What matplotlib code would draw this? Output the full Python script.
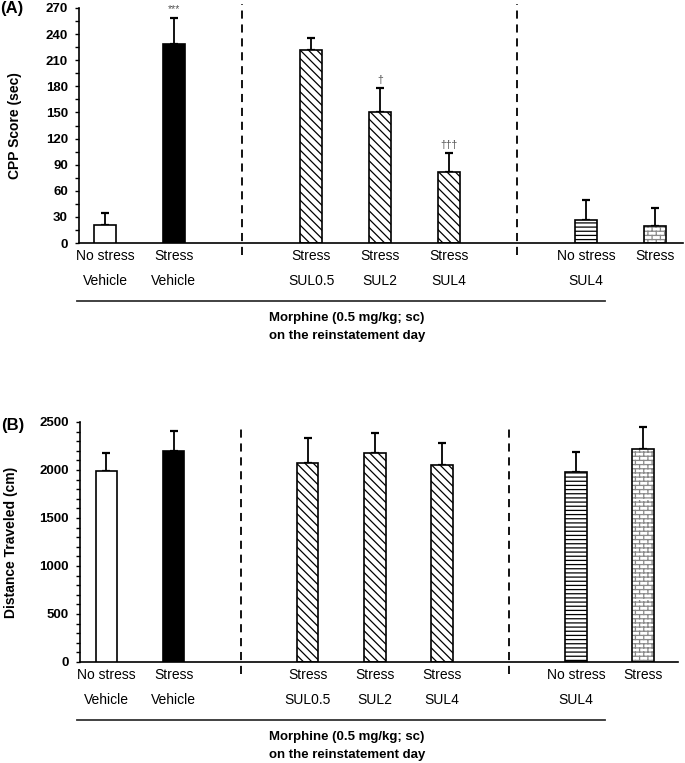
import warnings
import numpy as np
import matplotlib
matplotlib.use("Agg")
import matplotlib.pyplot as plt
import matplotlib.hatch as mhatch
import matplotlib.transforms as mtransforms
from matplotlib.lines import Line2D
from matplotlib.path import Path

warnings.filterwarnings("ignore")

# ---- data ----
conditions = ["No stress", "Stress", "Stress", "Stress", "Stress", "No stress", "Stress"]
treatments = ["Vehicle", "Vehicle", "SUL0.5", "SUL2", "SUL4", "SUL4", ""]
group_ids = [0, 0, 1, 1, 1, 2, 2]

cpp_mean = [21, 229, 222, 150, 82, 27, 19]
cpp_sem = [14, 30, 13, 28, 21, 22, 21]
cpp_marks = ["", "***", "", "\u2020", "\u2020\u2020\u2020", "", ""]

dist_mean = [1990, 2198, 2073, 2180, 2052, 1979, 2219]
dist_sem = [187, 205, 260, 208, 229, 209, 229]

# ---- style ----
plt.rcParams['font.family'] = ['Liberation Sans', 'DejaVu Sans']
plt.rcParams['hatch.linewidth'] = 0.9


class BrickHatch(mhatch.HatchPatternBase):
    """Staggered brick pattern, used with the letter 'b'."""
    rows = 24
    cols = 12

    def __init__(self, hatch, density):
        self.on = 'b' in (hatch or '')
        n = self.rows * 2 + self.rows * self.cols * 2
        self.num_vertices = n if self.on else 0

    def set_vertices_and_codes(self, vertices, codes):
        pts = []
        for i in range(self.rows):
            y0 = (i + 0.5) / self.rows
            y1 = (i + 1.5) / self.rows
            pts += [(0, y0), (1, y0)]
            shift = 0.5 * (i % 2)
            for j in range(self.cols):
                x = (j + 0.25 + shift) / self.cols
                pts += [(x, y0), (x, min(y1, 1.0))]
        vertices[:] = pts
        codes[0::2] = Path.MOVETO
        codes[1::2] = Path.LINETO


mhatch._hatch_types.append(BrickHatch)

faces = ['white', 'black', 'white', 'white', 'white', 'white', 'white']
hatches = [None, None, '\\\\\\\\', '\\\\\\\\', '\\\\\\\\', '----', 'b']
hatch_cols = ['black', 'black', 'black', 'black', 'black', 'black', '#8a8a8a']

x = np.arange(len(conditions)) + np.array(group_ids)
seps = [x[i] + 1 for i in range(len(x) - 1) if group_ids[i] != group_ids[i + 1]]

fig = plt.figure(figsize=(6.85, 7.63), dpi=100)
W, H = 685, 763


def make_axes(left, right, top, bottom):
    return fig.add_axes([left / W, 1 - bottom / H, (right - left) / W, (bottom - top) / H])


def draw_panel(ax, means, sems, xlim, ylim, major, minor, ylabel, ylab_x, dash_top):
    bw = 0.32
    for xi, m, fc, h, hc in zip(x, means, faces, hatches, hatch_cols):
        if h is not None:
            ax.bar(xi, m, bw, color=fc, edgecolor=hc, hatch=h, linewidth=0, zorder=2)
            ax.bar(xi, m, bw, fill=False, edgecolor='black', linewidth=1.2, zorder=3)
        else:
            ax.bar(xi, m, bw, color=fc, edgecolor='black', linewidth=1.2, zorder=3)
    ax.errorbar(x, means, yerr=[np.zeros(len(means)), sems], fmt='none',
                ecolor='black', elinewidth=1.3, capsize=2.9, capthick=1.6, zorder=1)
    ax.set_xlim(*xlim)
    ax.set_ylim(*ylim)
    ax.set_yticks(np.arange(ylim[0], ylim[1] + 1, major))
    ax.set_yticks(np.arange(ylim[0], ylim[1] + 1, minor), minor=True)
    ax.set_xticks([])
    for s in ['top', 'right']:
        ax.spines[s].set_visible(False)
    for s in ['left', 'bottom']:
        ax.spines[s].set_linewidth(1.2)
    ax.tick_params(axis='y', which='both', direction='out', length=3, width=1.0,
                   pad=5, labelsize=9.5)
    for t in ax.get_yticklabels():
        t.set_fontweight('bold')
    ax.set_ylabel(ylabel, fontsize=10, fontweight='bold')
    ax.yaxis.set_label_coords(ylab_x, 0.5)
    for sx in seps:
        ax.axvline(sx, ymin=-0.05, ymax=dash_top, color='black', lw=1.3,
                   ls=(0, (4.5, 3.2)), clip_on=False)

    # category labels below the axis
    def below(px):
        return (mtransforms.blended_transform_factory(ax.transData, ax.transAxes)
                + mtransforms.ScaledTranslation(0, -px / 100, fig.dpi_scale_trans))

    for xi, c, t in zip(x, conditions, treatments):
        ax.text(xi, 0, c, transform=below(13), ha='center', va='center', fontsize=10)
        if t:
            ax.text(xi, 0, t, transform=below(38), ha='center', va='center', fontsize=10)

    y0 = ax.get_position().y0
    line_y = y0 - 58 / H
    fig.add_artist(Line2D([77 / W, 605 / W], [line_y, line_y], color='#333333', lw=1.3,
                          transform=fig.transFigure))
    fig.text(347 / W, y0 - 75 / H, "Morphine (0.5 mg/kg; sc)", ha='center', va='center',
             fontsize=9.5, fontweight='bold')
    fig.text(347 / W, y0 - 93 / H, "on the reinstatement day", ha='center', va='center',
             fontsize=9.5, fontweight='bold')


axA = make_axes(79, 683, 8, 243)
draw_panel(axA, cpp_mean, cpp_sem, (-0.378, 8.41), (0, 270), 30, 15,
           "CPP Score (sec)", -0.094, 1.017)
for xi, m, s, mk in zip(x, cpp_mean, cpp_sem, cpp_marks):
    if mk:
        axA.annotate(mk, (xi, m + s), xytext=(0, 2.5), textcoords='offset points',
                     ha='center', va='bottom', fontsize=7.5, color='#555555')

axB = make_axes(80, 678, 422, 662)
draw_panel(axB, dist_mean, dist_sem, (-0.395, 8.52), (0, 2500), 500, 100,
           "Distance Traveled (cm)", -0.104, 0.98)

fig.text(12 / W, 1 - 9 / H, "(A)", ha='center', va='center', fontsize=12, fontweight='bold')
fig.text(13 / W, 1 - 426 / H, "(B)", ha='center', va='center', fontsize=12, fontweight='bold')

fig.savefig("out.png", dpi=100)
